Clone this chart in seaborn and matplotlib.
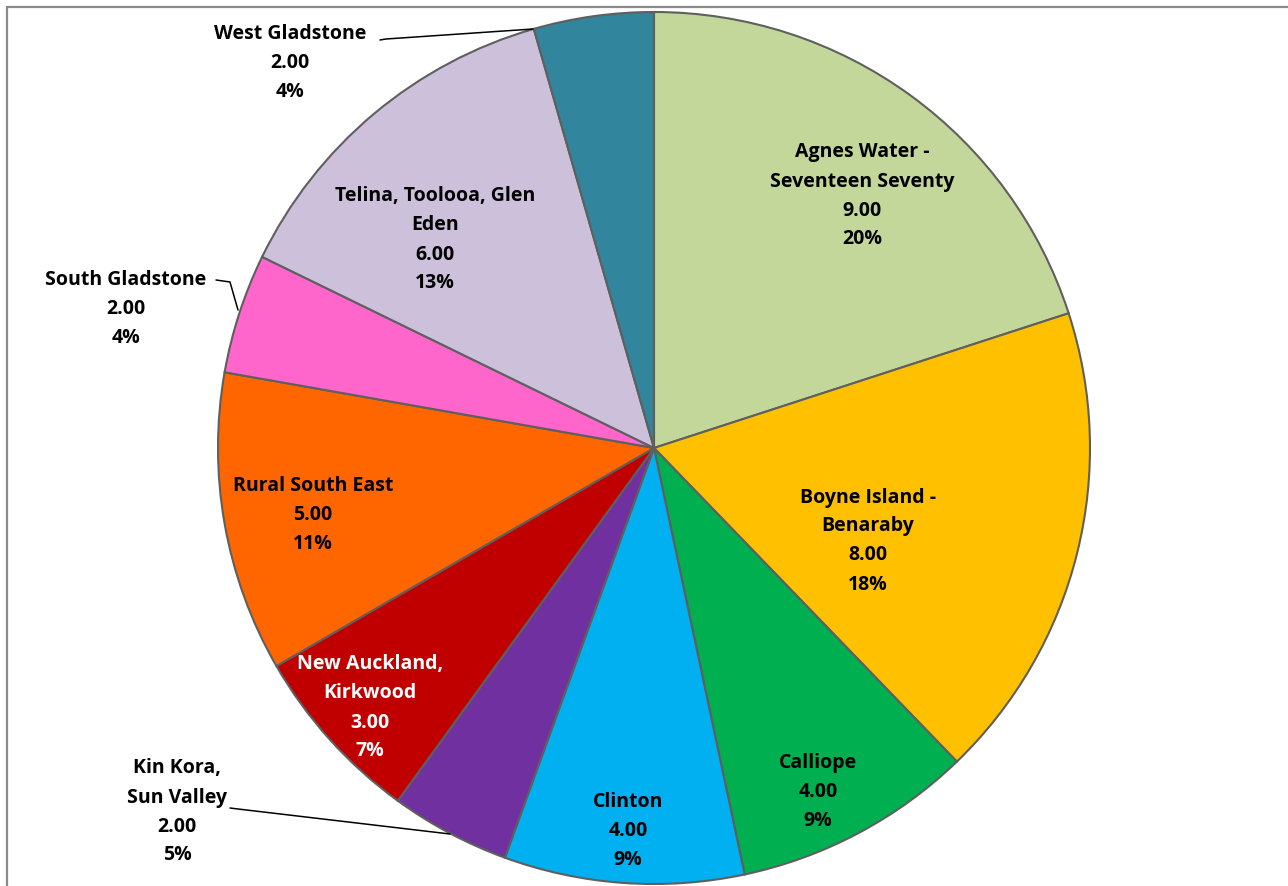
import matplotlib
matplotlib.use("Agg")
import matplotlib.pyplot as plt
import seaborn as sns
from matplotlib.patches import Rectangle

sns.set_theme(style="white")
plt.rcParams['font.family'] = ['Open Sans', 'DejaVu Sans']

categories = ["Agnes Water -\nSeventeen Seventy", "Boyne Island -\nBenaraby", "Calliope", "Clinton",
              "Kin Kora,\nSun Valley", "New Auckland,\nKirkwood", "Rural South East",
              "South Gladstone", "Telina, Toolooa, Glen\nEden", "West Gladstone"]
values = [9.0, 8.0, 4.0, 4.0, 2.0, 3.0, 5.0, 2.0, 6.0, 2.0]
pct_labels = ["20%", "18%", "9%", "9%", "5%", "7%", "11%", "4%", "13%", "4%"]
colors = ["#C4D79B", "#FFC000", "#00B050", "#00B0F0", "#7030A0", "#C00000",
          "#FF6600", "#FF66CC", "#CCC0DA", "#31859C"]
text_colors = ["black"] * 5 + ["white"] + ["black"] * 4

# label anchor positions in pixel coordinates (x, y from top)
label_pos = [(862, 196), (868, 541), (818, 792), (628, 831), (177, 812),
             (370, 708), (313, 515), (126, 309), (435, 240), (290, 63)]
leaders = {4: [(230, 808), (238, 809), (450, 834)],
           7: [(216, 280), (230, 282), (238, 310)],
           9: [(380, 40), (386, 39), (533, 29)]}

W, H = 1288, 886
CX, CY, R = 654, 448, 436

fig = plt.figure(figsize=(W / 100, H / 100), dpi=100)
ax = fig.add_axes([0, 0, 1, 1])

def P(px, py):
    return px - CX, CY - py

wedges, _ = ax.pie(values, colors=colors, startangle=90, counterclock=False, radius=R,
                   center=(0, 0), frame=True,
                   wedgeprops=dict(edgecolor="#5f5f5f", linewidth=1.5))
ax.set_xlim(-CX, W - CX)
ax.set_ylim(-(H - CY), CY)
ax.set_aspect("equal")
ax.axis("off")

for i, (cat, v, p) in enumerate(zip(categories, values, pct_labels)):
    x, y = P(*label_pos[i])
    ax.text(x, y, f"{cat}\n{v:.2f}\n{p}", ha="center", va="center", fontsize=14,
            fontweight="bold", color=text_colors[i], linespacing=1.6)

for i, pts in leaders.items():
    xs = [P(*q)[0] for q in pts]
    ys = [P(*q)[1] for q in pts]
    ax.plot(xs, ys, color="black", lw=1.1)

# chart frame (partially cut)
fig.patches.append(Rectangle((7 / W, -0.1), 1.2, (H - 7) / H + 0.1, transform=fig.transFigure,
                             fill=False, edgecolor="#8a8a8a", lw=1.6))

fig.savefig("out.png", dpi=100)
